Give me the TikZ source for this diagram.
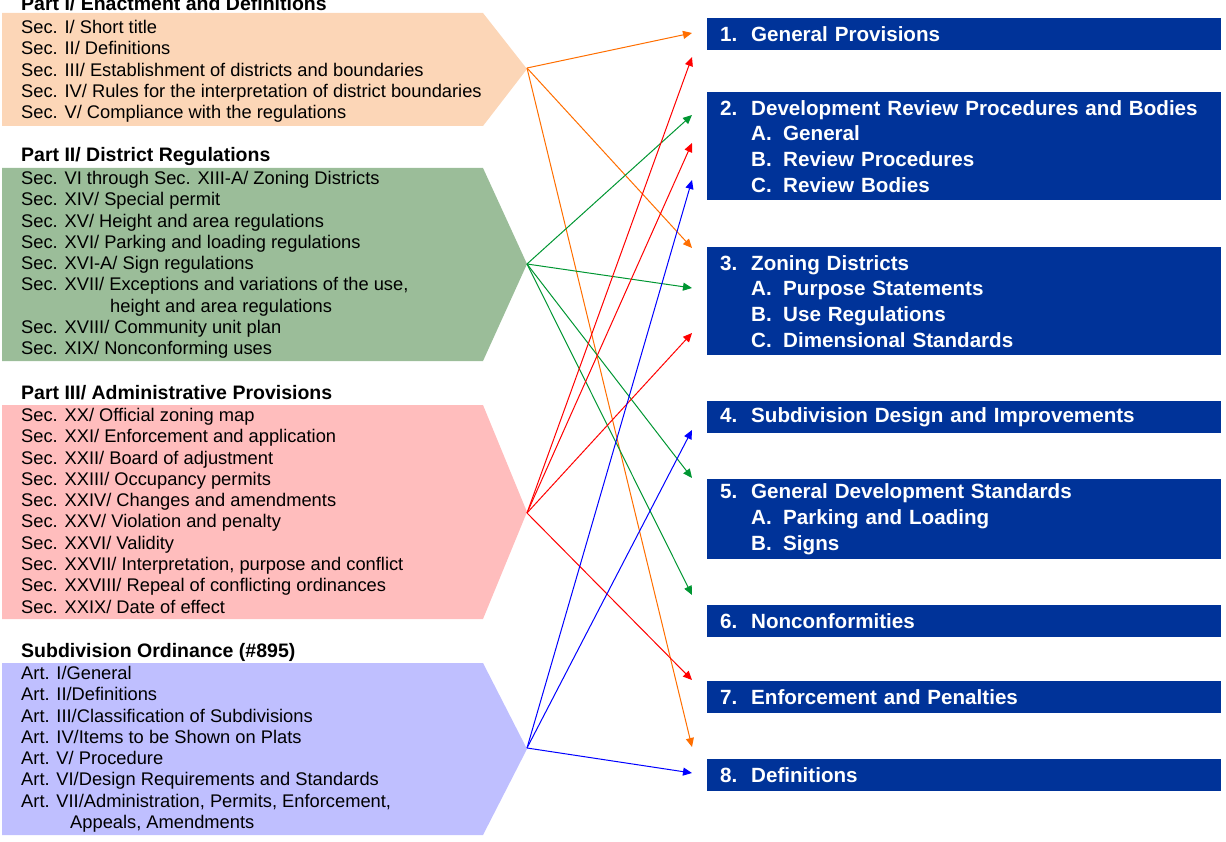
\documentclass[tikz,border=0pt]{standalone}
\usepackage{fontspec}
\setmainfont{Liberation Sans}
\usetikzlibrary{arrows.meta, calc, positioning}

\definecolor{peach}{RGB}{252,214,183}
\definecolor{sage}{RGB}{155,189,153}
\definecolor{rose}{RGB}{255,189,189}
\definecolor{lilac}{RGB}{191,191,255}
\definecolor{navy}{RGB}{0,51,153}
\definecolor{lnorange}{RGB}{255,110,0}
\definecolor{lngreen}{RGB}{0,150,50}

\begin{document}
\begin{tikzpicture}[%
    x=1pt, y=-1pt,                          % pixel-like grid, y grows downwards
    >={Triangle[length=9pt,width=8pt]},
    ]

\def\num#1{\makebox[31pt][l]{#1}}
\def\sub#1{\hspace*{31pt}\makebox[32pt][l]{#1}}

\tikzset{
  head/.style={anchor=base west, inner sep=0, font=\fontsize{19.5}{22}\selectfont\bfseries},
  list/.style={anchor=north west, inner sep=0, align=left, font=\fontsize{18.3}{21.3}\selectfont},
  chapter/.style={anchor=north west, fill=navy, text=white, inner xsep=13pt, inner ysep=0,
                  text width=488pt, align=left, font=\fontsize{20.6}{25.7}\selectfont\bfseries},
  link/.style={->, line width=1pt}
  };

\useasboundingbox (0,0) rectangle (1226,842);

% OLD ORDINANCE (left column)
\fill[peach] (2,13) -- (483,13) -- (527,69) -- (483,126) -- (2,126) -- cycle;
\fill[sage]  (2,168) -- (483,168) -- (527,264) -- (483,361) -- (2,361) -- cycle;
\fill[rose]  (2,405) -- (483,405) -- (527,512) -- (483,619) -- (2,619) -- cycle;
\fill[lilac] (2,663) -- (483,663) -- (527,749) -- (483,835) -- (2,835) -- cycle;

\coordinate (tipI)   at (527,68);
\coordinate (tipII)  at (527,264);
\coordinate (tipIII) at (527,513);
\coordinate (tipSub) at (527,748);

\node[head] (hdrI)   at (21,11)  {Part I/ Enactment and Definitions};
\node[head] (hdrII)  at (21,162) {Part II/ District Regulations};
\node[head] (hdrIII) at (21,399) {Part III/ Administrative Provisions};
\node[head] (hdrSub) at (21,657) {Subdivision Ordinance (\#895)};

\node[list] (partI) at (21,20) {%
  Sec. I/ Short title\\
  Sec. II/ Definitions\\
  Sec. III/ Establishment of districts and boundaries\\
  Sec. IV/ Rules for the interpretation of district boundaries\\
  Sec. V/ Compliance with the regulations};

\node[list] (partII) at (21,171) {%
  Sec. VI through Sec. XIII-A/ Zoning Districts\\
  Sec. XIV/ Special permit\\
  Sec. XV/ Height and area regulations\\
  Sec. XVI/ Parking and loading regulations\\
  Sec. XVI-A/ Sign regulations\\
  Sec. XVII/ Exceptions and variations of the use,\\
  \hspace*{89pt}height and area regulations\\
  Sec. XVIII/ Community unit plan\\
  Sec. XIX/ Nonconforming uses};

\node[list] (partIII) at (21,408) {%
  Sec. XX/ Official zoning map\\
  Sec. XXI/ Enforcement and application\\
  Sec. XXII/ Board of adjustment\\
  Sec. XXIII/ Occupancy permits\\
  Sec. XXIV/ Changes and amendments\\
  Sec. XXV/ Violation and penalty\\
  Sec. XXVI/ Validity\\
  Sec. XXVII/ Interpretation, purpose and conflict\\
  Sec. XXVIII/ Repeal of conflicting ordinances\\
  Sec. XXIX/ Date of effect};

\node[list] (partSub) at (21,666) {%
  Art. I/General\\
  Art. II/Definitions\\
  Art. III/Classification of Subdivisions\\
  Art. IV/Items to be Shown on Plats\\
  Art. V/ Procedure\\
  Art. VI/Design Requirements and Standards\\
  Art. VII/Administration, Permits, Enforcement,\\
  \hspace*{49pt}Appeals, Amendments};

% NEW CODE (right column)
\node[chapter, minimum height=32pt]  (ch1) at (707,18)  {\num{1.}General Provisions};
\node[chapter, minimum height=108pt] (ch2) at (707,92)  {\num{2.}Development Review Procedures and Bodies\\
  \sub{A.}General\\ \sub{B.}Review Procedures\\ \sub{C.}Review Bodies};
\node[chapter, minimum height=108pt] (ch3) at (707,247) {\num{3.}Zoning Districts\\
  \sub{A.}Purpose Statements\\ \sub{B.}Use Regulations\\ \sub{C.}Dimensional Standards};
\node[chapter, minimum height=32pt]  (ch4) at (707,401) {\num{4.}Subdivision Design and Improvements};
\node[chapter, minimum height=80pt]  (ch5) at (707,479) {\num{5.}General Development Standards\\
  \sub{A.}Parking and Loading\\ \sub{B.}Signs};
\node[chapter, minimum height=32pt]  (ch6) at (707,605) {\num{6.}Nonconformities};
\node[chapter, minimum height=32pt]  (ch7) at (707,681) {\num{7.}Enforcement and Penalties};
\node[chapter, minimum height=32pt]  (ch8) at (707,759) {\num{8.}Definitions};

% arrow ends, just left of the chapters
\coordinate (in1o) at (692,33);
\coordinate (in1r) at (692,57);
\coordinate (in2g) at (692,115);
\coordinate (in2r) at (692,143);
\coordinate (in2b) at (692,180);
\coordinate (in3o) at (692,248);
\coordinate (in3g) at (692,288);
\coordinate (in3r) at (692,333);
\coordinate (in4b) at (692,430);
\coordinate (in5g) at (692,478);
\coordinate (in6g) at (692,595);
\coordinate (in7r) at (692,680);
\coordinate (in8o) at (692,747);
\coordinate (in8b) at (692,773);

\draw[link, lnorange] (tipI) -- (in1o);
\draw[link, lnorange] (tipI) -- (in3o);
\draw[link, lnorange] (tipI) -- (in8o);

\draw[link, lngreen] (tipII) -- (in2g);
\draw[link, lngreen] (tipII) -- (in3g);
\draw[link, lngreen] (tipII) -- (in5g);
\draw[link, lngreen] (tipII) -- (in6g);

\draw[link, red] (tipIII) -- (in1r);
\draw[link, red] (tipIII) -- (in2r);
\draw[link, red] (tipIII) -- (in3r);
\draw[link, red] (tipIII) -- (in7r);

\draw[link, blue] (tipSub) -- (in2b);
\draw[link, blue] (tipSub) -- (in4b);
\draw[link, blue] (tipSub) -- (in8b);

\end{tikzpicture}
\end{document}
